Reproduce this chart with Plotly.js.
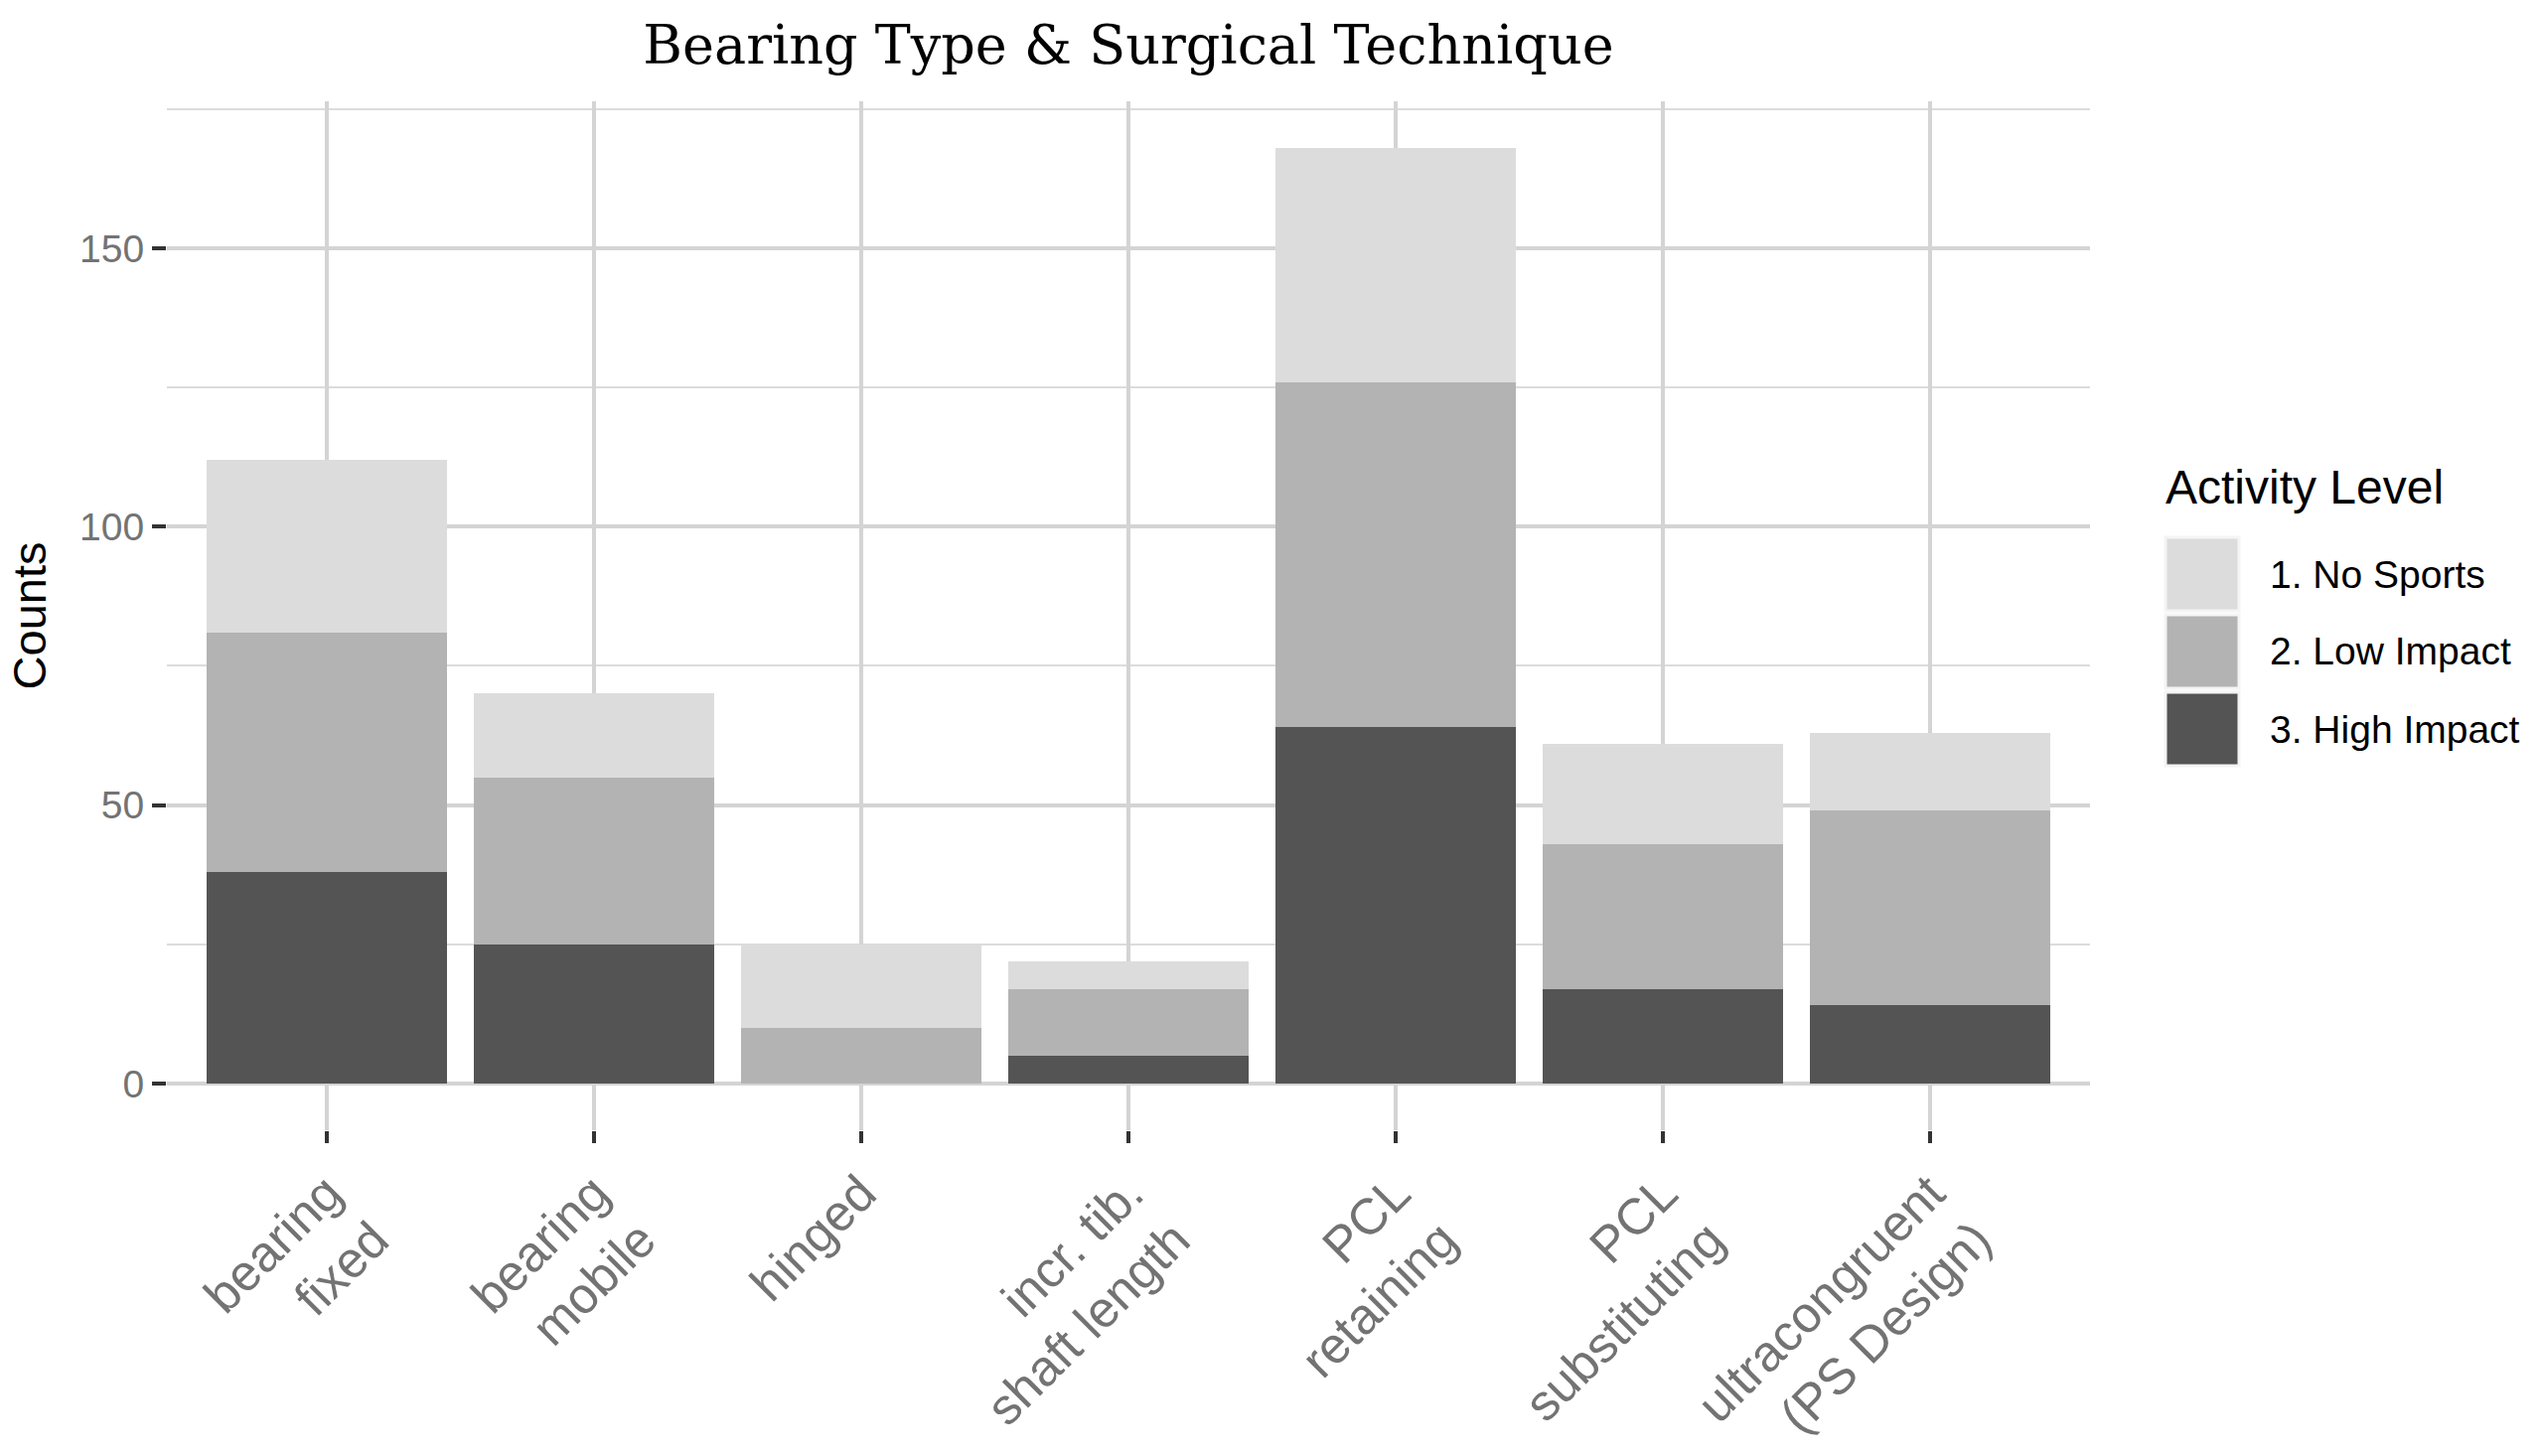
<!DOCTYPE html>
<html>
<head>
<meta charset="utf-8">
<script src="https://cdn.plot.ly/plotly-3.0.1.min.js"></script>
<style>
  html, body { margin: 0; padding: 0; background: #ffffff; }
  #chart { width: 2557px; height: 1466px; }
</style>
</head>
<body>
<div id="chart"></div>
<script>
// ---- data ----
const categories = [
  "bearing<br>fixed",
  "bearing<br>mobile",
  "hinged",
  "incr. tib.<br>shaft length",
  "PCL<br>retaining",
  "PCL<br>substituting",
  "ultracongruent<br>(PS Design)"
];
const highImpact = [38, 25, 0, 5, 64, 17, 14];
const lowImpact  = [43, 30, 10, 12, 62, 26, 35];
const noSports   = [31, 15, 15, 5, 42, 18, 14];
const seriesNames = ["1. No Sports", "2. Low Impact", "3. High Impact"];
const yTickVals = [0, 50, 100, 150];
const yTickText = ["0", "50", "100", "150"];

// ---- styling ----
const colNo = "#dcdcdc", colLow = "#b3b3b3", colHigh = "#545454";
const W = 2557, H = 1466;
const L = 168, R = 2104, T = 102, B = 1138;
const pw = R - L, ph = B - T;
const px = v => (v - L) / pw;
const py = v => (B - v) / ph;

const traces = [
  { type: "bar", x: categories, y: highImpact, name: seriesNames[2],
    marker: { color: colHigh, line: { width: 0 } }, showlegend: false },
  { type: "bar", x: categories, y: lowImpact, name: seriesNames[1],
    marker: { color: colLow, line: { width: 0 } }, showlegend: false },
  { type: "bar", x: categories, y: noSports, name: seriesNames[0],
    marker: { color: colNo, line: { width: 0 } }, showlegend: false }
];

const total = categories.map((c, i) => highImpact[i] + lowImpact[i] + noSports[i]);
const ymax = Math.max(...total);
const pad = ymax * 0.05;

// custom legend (ggplot-like large keys)
const legendColors = [colNo, colLow, colHigh];
const keyTops = [541, 619, 697];
const shapes = [];
const annotations = [];
legendColors.forEach((c, i) => {
  shapes.push({
    type: "rect", xref: "paper", yref: "paper",
    x0: px(2180), x1: px(2254), y0: py(keyTops[i] + 74), y1: py(keyTops[i]),
    fillcolor: c, line: { color: "#f4f4f4", width: 3 }, layer: "above"
  });
  annotations.push({
    xref: "paper", yref: "paper", x: px(2283), y: py(keyTops[i] + 37),
    xanchor: "left", yanchor: "middle", showarrow: false,
    text: seriesNames[i],
    font: { family: "Liberation Sans, Arial, sans-serif", size: 39, color: "#000000" }
  });
});
annotations.push({
  xref: "paper", yref: "paper", x: px(2178), y: py(491),
  xanchor: "left", yanchor: "middle", showarrow: false,
  text: "Activity Level",
  font: { family: "Liberation Sans, Arial, sans-serif", size: 48, color: "#000000" }
});

const layout = {
  width: W, height: H,
  margin: { l: L, r: W - R, t: T, b: H - B, pad: 0, autoexpand: false },
  paper_bgcolor: "#ffffff",
  plot_bgcolor: "#ffffff",
  barmode: "stack",
  bargap: 0.1,
  showlegend: false,
  title: {
    text: "Bearing Type & Surgical Technique",
    font: { family: "DejaVu Serif, Liberation Serif, serif", size: 54, color: "#000000" },
    x: (L + R) / 2 / W, xanchor: "center", xref: "container",
    y: 1 - 45 / H, yanchor: "middle", yref: "container"
  },
  xaxis: {
    type: "category",
    range: [-0.6, categories.length - 0.4],
    showgrid: true, gridcolor: "#d4d4d4", gridwidth: 4,
    zeroline: false, showline: false,
    ticks: "outside", ticklen: 12, tickwidth: 4, tickcolor: "#333333",
    tickangle: -45,
    tickfont: { family: "Liberation Sans, Arial, sans-serif", size: 51, color: "#737373" },
    automargin: false, fixedrange: true
  },
  yaxis: {
    range: [-pad, ymax + pad],
    tickvals: yTickVals, ticktext: yTickText,
    showgrid: true, gridcolor: "#d4d4d4", gridwidth: 4,
    minor: { tickvals: [25, 75, 125, 175], showgrid: true, gridcolor: "#dcdcdc", gridwidth: 2, ticks: "" },
    zeroline: false, showline: false,
    ticks: "outside", ticklen: 14, tickwidth: 4, tickcolor: "#333333",
    tickfont: { family: "Liberation Sans, Arial, sans-serif", size: 39, color: "#737373" },
    title: {
      text: "Counts", standoff: 18,
      font: { family: "Liberation Sans, Arial, sans-serif", size: 47, color: "#000000" }
    },
    automargin: false, fixedrange: true
  },
  shapes: shapes,
  annotations: annotations
};

Plotly.newPlot("chart", traces, layout, { displayModeBar: false, staticPlot: true });
</script>
</body>
</html>
